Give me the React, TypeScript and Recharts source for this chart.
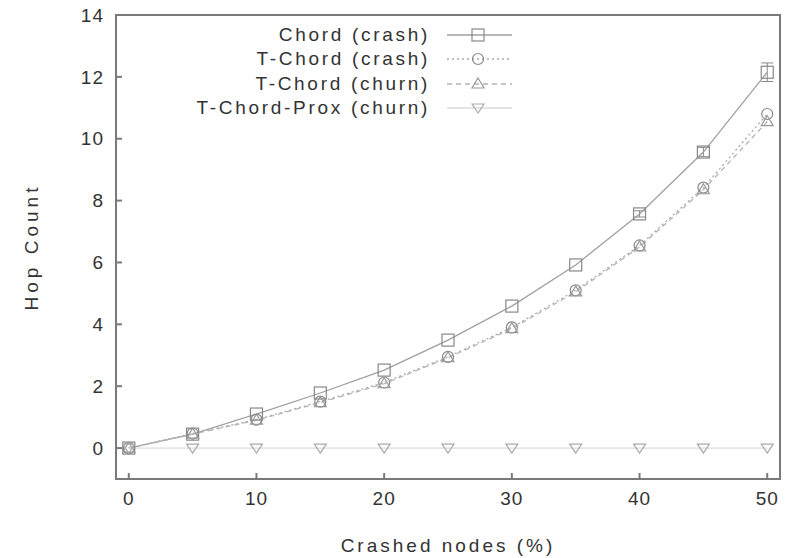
import {
  LineChart,
  Line,
  XAxis,
  YAxis,
  ReferenceArea,
  ErrorBar,
} from "recharts";

const crashed = [0, 5, 10, 15, 20, 25, 30, 35, 40, 45, 50];
const chordCrash = [0, 0.45, 1.1, 1.78, 2.52, 3.49, 4.59, 5.92, 7.57, 9.57, 12.15];
const chordCrashErr = [0, 0, 0, 0, 0, 0, 0, 0, 0.1, 0.15, 0.3];
const tchordCrash = [0, 0.47, 0.92, 1.5, 2.12, 2.95, 3.9, 5.1, 6.55, 8.42, 10.8];
const tchordChurn = [0, 0.45, 0.9, 1.47, 2.08, 2.92, 3.86, 5.05, 6.5, 8.35, 10.55];
const tchordProx = [0, 0, 0, 0, 0, 0, 0, 0, 0, 0, 0];
const xTicks = [0, 10, 20, 30, 40, 50];
const yTicks = [0, 2, 4, 6, 8, 10, 12, 14];

const data = crashed.map((x, i) => ({
  x,
  chord: chordCrash[i],
  chordErr: chordCrashErr[i],
  tcrash: tchordCrash[i],
  tchurn: tchordChurn[i],
  prox: tchordProx[i],
}));

const FONT = "'Liberation Sans', Arial, sans-serif";
const TXT = "#333";

type Shape = "square" | "circle" | "tri" | "dtri";

function marker(shape: Shape, cx: number, cy: number, stroke: string, key?: any) {
  if (shape === "square")
    return <rect key={key} x={cx - 6} y={cy - 6} width={12} height={12} fill="none" stroke={stroke} strokeWidth={1.2} />;
  if (shape === "circle")
    return <circle key={key} cx={cx} cy={cy} r={5.5} fill="none" stroke={stroke} strokeWidth={1.2} />;
  if (shape === "tri")
    return <path key={key} d={`M${cx},${cy - 6} L${cx + 6},${cy + 4} L${cx - 6},${cy + 4} Z`} fill="none" stroke={stroke} strokeWidth={1.2} />;
  return <path key={key} d={`M${cx},${cy + 5} L${cx + 6},${cy - 4} L${cx - 6},${cy - 4} Z`} fill="none" stroke={stroke} strokeWidth={1.2} />;
}

const series = [
  { key: "chord", name: "Chord (crash)", shape: "square" as Shape, color: "#a0a0a0", mark: "#888", dash: undefined },
  { key: "tcrash", name: "T-Chord (crash)", shape: "circle" as Shape, color: "#aaaaaa", mark: "#888", dash: "2 3" },
  { key: "tchurn", name: "T-Chord (churn)", shape: "tri" as Shape, color: "#b4b4b4", mark: "#999", dash: "5 4" },
  { key: "prox", name: "T-Chord-Prox (churn)", shape: "dtri" as Shape, color: "#dcdcdc", mark: "#aaa", dash: undefined },
];

function LegendBox() {
  return (
    <div style={{ position: "absolute", top: 23, left: 100, width: 412, fontFamily: FONT, fontSize: 19, color: TXT, letterSpacing: 2.7 }}>
      {series.map((s) => (
        <div key={s.key} style={{ display: "flex", alignItems: "center", height: 24.3, justifyContent: "flex-end" }}>
          <span style={{ marginRight: 17, whiteSpace: "nowrap" }}>{s.name}</span>
          <svg width={65} height={18}>
            <line x1={0} y1={9} x2={65} y2={9} stroke={s.color} strokeWidth={1.3} strokeDasharray={s.dash} />
            {marker(s.shape, 31, 9, s.mark)}
          </svg>
        </div>
      ))}
    </div>
  );
}

const axisStroke = "#7a7a7a";
const tickStyle = { fill: TXT, fontSize: 19, fontFamily: FONT, style: { letterSpacing: 1 } };

export default function App() {
  return (
    <div style={{ position: "absolute", left: 0, top: 0, width: 787, height: 558, background: "#fff" }}>
      <LineChart width={787} height={558} data={data} margin={{ top: 15, right: 7, bottom: 0, left: 0 }}>
        <XAxis
          dataKey="x"
          type="number"
          domain={[-1, 51]}
          ticks={xTicks}
          allowDataOverflow
          height={79}
          stroke={axisStroke}
          strokeWidth={2}
          tickSize={-6}
          tickMargin={19}
          tick={tickStyle}
          label={{ value: "Crashed nodes (%)", position: "insideBottom", offset: 6, fill: TXT, fontSize: 19, fontFamily: FONT, style: { letterSpacing: 3 } }}
        />
        <XAxis
          xAxisId="top"
          dataKey="x"
          type="number"
          orientation="top"
          domain={[-1, 51]}
          ticks={xTicks}
          allowDataOverflow
          height={0}
          stroke={axisStroke}
          strokeWidth={2}
          tickSize={-6}
          tick={false}
        />
        <YAxis
          type="number"
          domain={[-1, 14]}
          ticks={yTicks}
          allowDataOverflow
          width={116}
          stroke={axisStroke}
          strokeWidth={2}
          tickSize={-6}
          tickMargin={18}
          tick={tickStyle}
          label={{ value: "Hop Count", angle: -90, position: "insideLeft", offset: 31, fill: TXT, fontSize: 19, fontFamily: FONT, style: { textAnchor: "middle", letterSpacing: 4 } }}
        />
        <YAxis
          yAxisId="right"
          type="number"
          orientation="right"
          domain={[-1, 14]}
          ticks={yTicks}
          allowDataOverflow
          width={0}
          stroke={axisStroke}
          strokeWidth={2}
          tickSize={-6}
          tick={false}
        />
        <ReferenceArea x1={-1} x2={51} y1={-1} y2={14} fill="none" stroke={axisStroke} strokeWidth={2} ifOverflow="visible" />
        {series.map((s) => (
          <Line
            key={s.key}
            dataKey={s.key}
            name={s.name}
            stroke={s.color}
            strokeWidth={1.3}
            strokeDasharray={s.dash}
            isAnimationActive={false}
            dot={(p: any) => marker(s.shape, p.cx, p.cy, s.mark, p.index)}
            activeDot={false}
          >
            {s.key === "chord" && <ErrorBar dataKey="chordErr" width={6} stroke="#888" strokeWidth={1} />}
          </Line>
        ))}
      </LineChart>
      <LegendBox />
    </div>
  );
}
